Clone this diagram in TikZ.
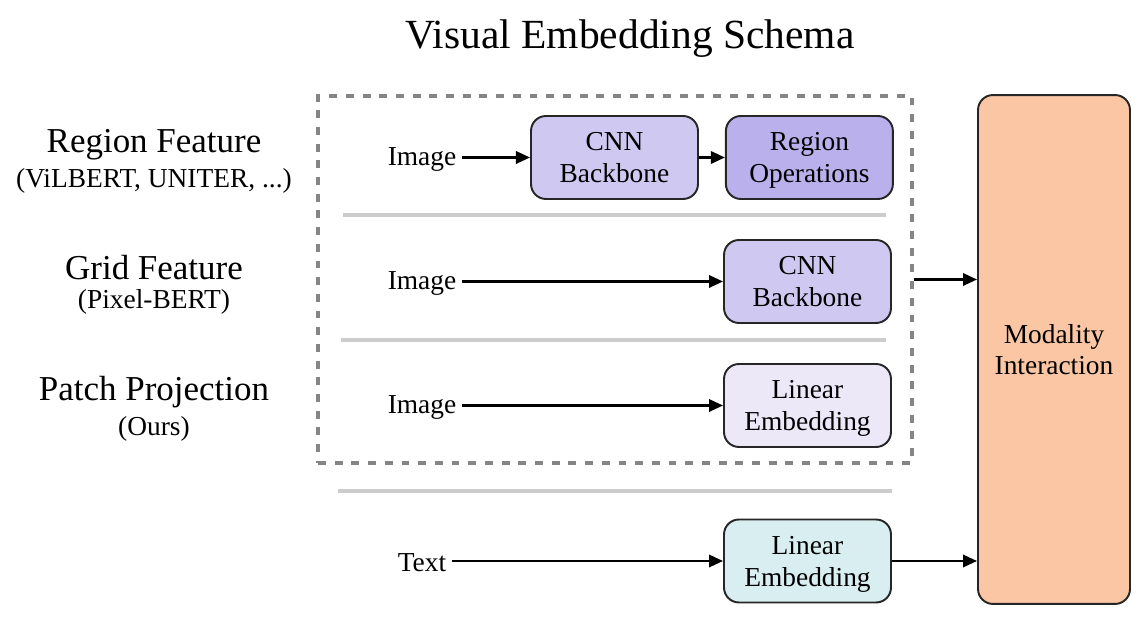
\documentclass[tikz,border=0pt]{standalone}
\usepackage{fontspec}
\setmainfont{Liberation Serif}
\usetikzlibrary{positioning, arrows.meta}

\definecolor{cnnfill}{HTML}{CFC8F0}
\definecolor{regfill}{HTML}{B9B0EC}
\definecolor{patchfill}{HTML}{ECE8F8}
\definecolor{textfill}{HTML}{D8EEF0}
\definecolor{modfill}{HTML}{FAC6A4}

\begin{document}
\begin{tikzpicture}[
    x=0.02cm, y=-0.02cm,
    >={Triangle[length=8pt, width=7pt]},
    every node/.style={font=\fontsize{15.6}{18.2}\selectfont},
    block/.style={draw=black!85, line width=1.1pt, rounded corners=8.5pt,
                  minimum width=3.34cm, minimum height=1.66cm, align=center,
                  text depth=0pt},
    flow/.style={->, line width=1.4pt},
    sep/.style={draw=black!20, line width=2.2pt},
    head/.style={font=\fontsize{19.9}{22}\selectfont},
  ]
  \useasboundingbox (0,0) rectangle (1147,617);

  % Title
  \node[font=\fontsize{23.6}{26}\selectfont] (title) at (630,39) {Visual Embedding Schema};

  % Labels on the left
  \node[head] (regF) at (154,145) {Region Feature};
  \node (regS) at (154,181) {(ViLBERT, UNITER, ...)};
  \node[head] (gridF) at (154,268) {Grid Feature};
  \node (gridS) at (154,302) {(Pixel-BERT)};
  \node[head] (patchF) at (154,392) {Patch Projection};
  \node (patchS) at (154,429) {(Ours)};

  % Frame round the image rows
  \node[draw=black!48, line width=1.8pt, dash pattern=on 4.5pt off 5pt,
        minimum width=11.88cm, minimum height=7.34cm] (frame) at (615,279.5) {};

  % Blocks
  \node[block, fill=cnnfill] (cnnA) at (614.5,157.5) {CNN\\Backbone};
  \node[block, fill=regfill] (regOp) [right=0.52cm of cnnA] {Region\\Operations};
  \node[block, fill=cnnfill] (cnnB) at (807.5,281.5) {CNN\\Backbone};
  \node[block, fill=patchfill] (linP) at (807.5,405.5) {Linear\\Embedding};
  \node[block, fill=textfill] (linT) at (807.5,561) {Linear\\Embedding};
  \node[block, fill=modfill, minimum width=3.04cm, minimum height=10.18cm]
        (mod) at (1054,349.5) {Modality\\Interaction};

  % Inputs
  \node (img1) at (422,159.5) {Image};
  \node (img2) at (422,283.5) {Image};
  \node (img3) at (422,407.5) {Image};
  \node (txt) at (422,562.5) {Text};

  % Separators
  \draw[sep] (343,215) -- (886,215);
  \draw[sep] (341,340) -- (886,340);
  \draw[sep] (338,491) -- (892,491);

  % Arrows
  \draw[flow] (img1.east |- cnnA) -- (cnnA);
  \draw[flow] (cnnA) -- (regOp);
  \draw[flow] (img2.east |- cnnB) -- (cnnB);
  \draw[flow] (img3.east |- linP) -- (linP);
  \draw[flow] (txt.east |- linT) -- (linT);
  \draw[flow] (frame.east) -- (frame.east -| mod.west);
  \draw[flow] (linT) -- (linT -| mod.west);
\end{tikzpicture}
\end{document}
